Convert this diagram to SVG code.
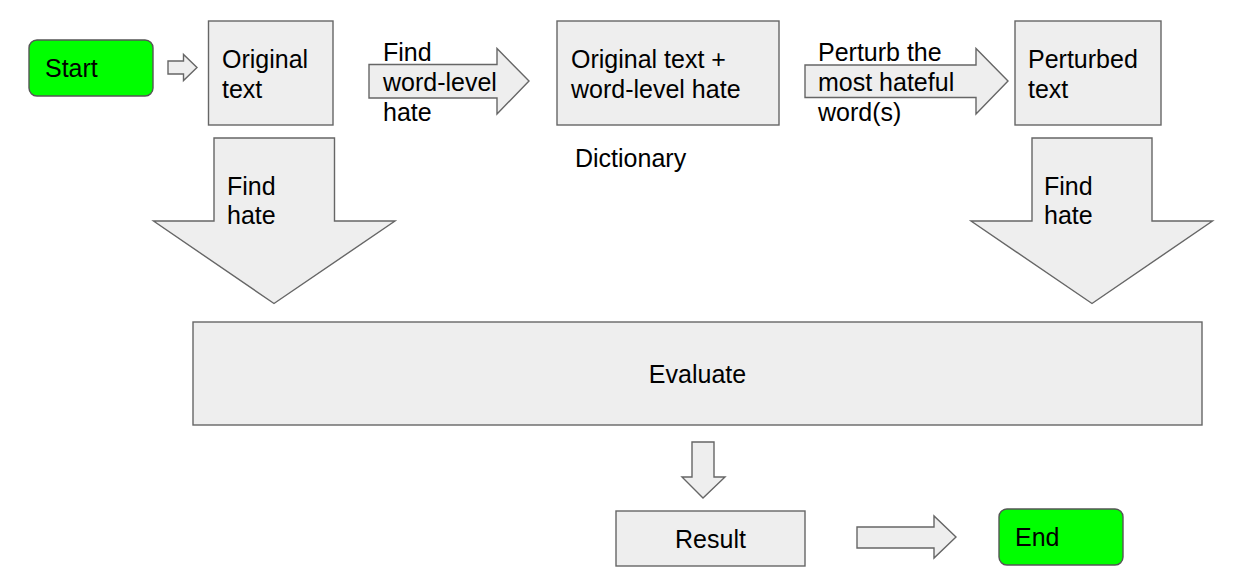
<svg xmlns="http://www.w3.org/2000/svg" width="1234" height="579" viewBox="0 0 1234 579">
<style>
.box{fill:#eeeeee;stroke:#666666;stroke-width:1.4}
.term{fill:#00ff00;stroke:#555555;stroke-width:1.4}
.arr{fill:#eeeeee;stroke:#666666;stroke-width:1.4;stroke-linejoin:miter}
text{font-family:"Liberation Sans",Arial,sans-serif;font-size:25px;fill:#000}
.c{text-anchor:middle}
</style>
<rect width="1234" height="579" fill="#ffffff"/>
<g id="connectors">
<polygon class="arr" points="168,61 183.5,61 183.5,54.5 197,67.5 183.5,80.5 183.5,74 168,74"/>
<polygon class="arr" points="369,64.5 497,64.5 497,48.5 529,81 497,114 497,98 369,98"/>
<polygon class="arr" points="805,65 976,65 976,48.5 1008,81 976,114 976,97.5 805,97.5"/>
<polygon class="arr" points="214,138 334.5,138 334.5,221 395,221 274,303.5 153.5,221 214,221"/>
<polygon class="arr" points="1032,138 1152,138 1152,221 1212.5,221 1092,303.5 971,221 1032,221"/>
<polygon class="arr" points="692,442 714,442 714,477 725,477 703,498 682,477 692,477"/>
<polygon class="arr" points="857,527 934,527 934,516 956,537 934,558 934,548 857,548"/>
<text x="383" y="61">Find</text>
<text x="383" y="91">word-level</text>
<text x="383" y="121">hate</text>
<text x="818" y="61">Perturb the</text>
<text x="818" y="91">most hateful</text>
<text x="818" y="121">word(s)</text>
<text x="227" y="195">Find</text>
<text x="227" y="224">hate</text>
<text x="1044" y="195">Find</text>
<text x="1044" y="224">hate</text>
</g>
<g id="start">
<rect class="term" x="29" y="40" width="124" height="56" rx="8"/>
<text x="45" y="77">Start</text>
</g>
<g id="original">
<rect class="box" x="208.5" y="21" width="124.5" height="104"/>
<text x="222" y="68">Original</text>
<text x="222" y="97.5">text</text>
</g>
<g id="orig-word">
<rect class="box" x="557" y="21" width="222" height="104"/>
<text x="571" y="68">Original text +</text>
<text x="571" y="97.5">word-level hate</text>
</g>
<g id="dictionary">
<text x="575" y="167">Dictionary</text>
</g>
<g id="perturbed">
<rect class="box" x="1015" y="21" width="146" height="104"/>
<text x="1028" y="68">Perturbed</text>
<text x="1028" y="97.5">text</text>
</g>
<g id="evaluate">
<rect class="box" x="193" y="322" width="1009" height="103"/>
<text class="c" x="697.5" y="383">Evaluate</text>
</g>
<g id="result">
<rect class="box" x="616" y="511" width="189" height="55"/>
<text class="c" x="710.5" y="548">Result</text>
</g>
<g id="end">
<rect class="term" x="999" y="509" width="124" height="56" rx="8"/>
<text x="1015" y="546">End</text>
</g>
</svg>
